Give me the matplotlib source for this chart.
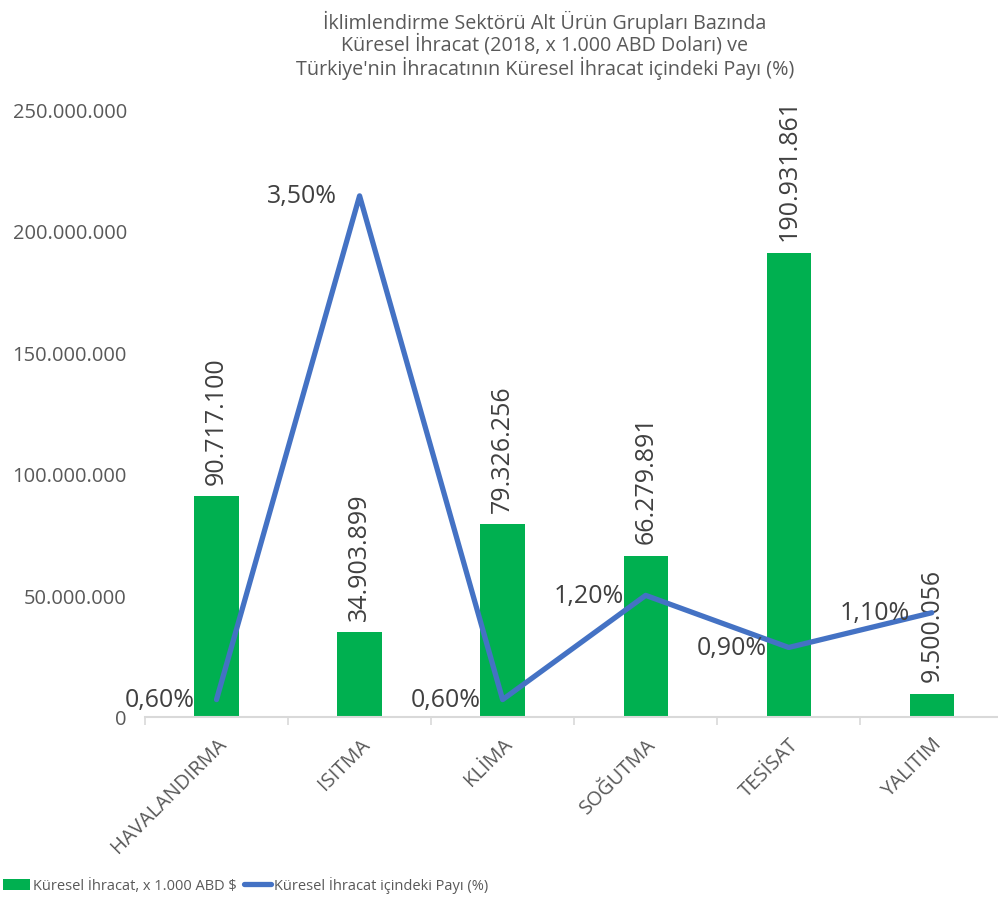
import matplotlib
matplotlib.use("Agg")
import matplotlib.pyplot as plt
from matplotlib.ticker import FuncFormatter
from matplotlib.lines import Line2D
from matplotlib.patches import Patch

categories = ["HAVALANDIRMA", "ISITMA", "KLİMA", "SOĞUTMA", "TESİSAT", "YALITIM"]
export_values = [90717100, 34903899, 79326256, 66279891, 190931861, 9500056]
share_pct = [0.60, 3.50, 0.60, 1.20, 0.90, 1.10]
y_ticks = [0, 50000000, 100000000, 150000000, 200000000, 250000000]

title_lines = [
    "İklimlendirme Sektörü Alt Ürün Grupları Bazında",
    "Küresel İhracat (2018, x 1.000 ABD Doları) ve",
    "Türkiye'nin İhracatının Küresel İhracat içindeki Payı (%)",
]
legend_bar = "Küresel İhracat, x 1.000 ABD $"
legend_line = "Küresel İhracat içindeki Payı (%)"

GREEN = "#00b050"
BLUE = "#4472c4"
GREY_TXT = "#595959"

plt.rcParams['font.family'] = ['Open Sans', 'DejaVu Sans']


def dotted(v, pos=None):
    return f"{int(v):,}".replace(",", ".")


def main():
    fig = plt.figure(figsize=(9.98, 9.04), dpi=100)
    ax = fig.add_axes([0.1453, 0.2058, 0.86, 0.6725])
    x = list(range(len(categories)))

    ax.bar(x, export_values, width=0.31, color=GREEN, zorder=2)
    ax.set_xlim(-0.5, len(categories) - 0.5)
    ax.set_ylim(0, 250000000)
    ax.set_yticks(y_ticks)
    ax.yaxis.set_major_formatter(FuncFormatter(dotted))
    ax.tick_params(axis='y', length=0, labelsize=14.5, labelcolor=GREY_TXT, pad=13)

    # category boundaries carry the small tick marks, labels sit at the centres
    ax.set_xticks([i - 0.5 for i in range(len(categories) + 1)], minor=False)
    ax.set_xticklabels([])
    ax.tick_params(axis='x', which='major', length=6, color="#d9d9d9", width=1.2)
    ax.set_xticks(x, minor=True)
    ax.set_xticklabels(categories, minor=True, rotation=45, ha='right',
                       rotation_mode='anchor', fontsize=14.5, color=GREY_TXT)
    ax.tick_params(axis='x', which='minor', length=0, pad=12)

    for side in ("left", "right", "top"):
        ax.spines[side].set_visible(False)
    ax.spines["bottom"].set_color("#d9d9d9")
    ax.spines["bottom"].set_linewidth(1.5)

    for xi, v in zip(x, export_values):
        ax.annotate(dotted(v), (xi, v), xytext=(0, 9), textcoords='offset points',
                    rotation=90, ha='center', va='bottom', fontsize=18,
                    color="#404040")

    ax2 = ax.twinx()
    ax2.plot(x, share_pct, color=BLUE, linewidth=3.8, solid_capstyle='round', zorder=3)
    ax2.set_ylim(0.5, 4.0)
    ax2.axis('off')
    for xi, v in zip(x, share_pct):
        ax2.annotate(f"{v:.2f}%".replace(".", ","), (xi, v), xytext=(-16, 0),
                     textcoords='offset points', ha='right', va='center',
                     fontsize=18, color="#404040")

    for i, line in enumerate(title_lines):
        fig.text(0.546, 1 - (22 + 23 * i) / 904, line, ha='center', va='center',
                 fontsize=14.2, color=GREY_TXT)

    handles = [Patch(facecolor=GREEN, edgecolor='none'),
               Line2D([0], [0], color=BLUE, linewidth=3.8, solid_capstyle='round')]
    fig.legend(handles, [legend_bar, legend_line], loc='center left',
               bbox_to_anchor=(0.003, 1 - 886 / 904), ncol=2, frameon=False,
               fontsize=10.5, labelcolor=GREY_TXT, handlelength=1.85,
               handletextpad=0.2, columnspacing=0.5, borderaxespad=0, borderpad=0)

    fig.savefig("out.png", dpi=100)


if __name__ == "__main__":
    main()
